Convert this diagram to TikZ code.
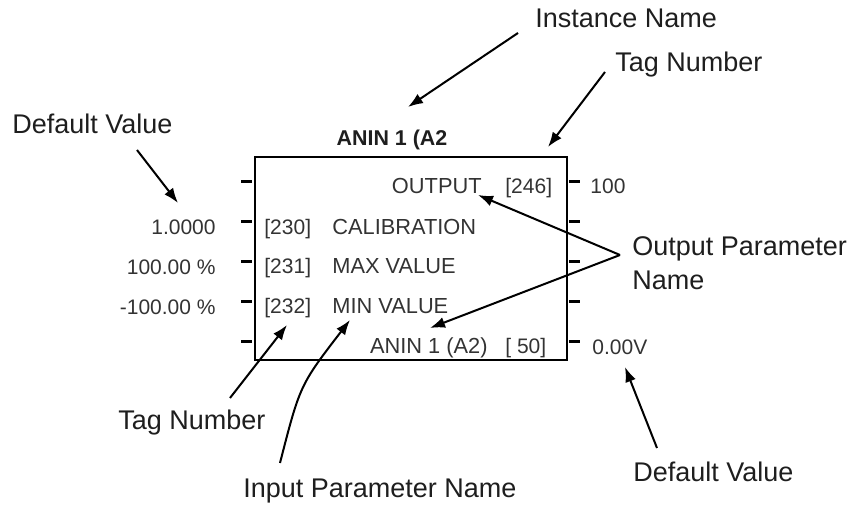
\documentclass[tikz,border=0pt]{standalone}
\usepackage{fontspec}
\setmainfont{Liberation Sans}
\usetikzlibrary{arrows.meta}
\definecolor{negroTexto}{HTML}{1E1E1E}
\definecolor{grisTexto}{HTML}{333333}
\colorlet{colLinea}{black}
\tikzset{
  cajaBloque/.style={
    draw=colLinea, line width=0.9pt, inner sep=0pt,
    minimum width=156pt, minimum height=101.5pt
  },
  marca/.style={draw=colLinea, line width=1.5pt},
  textoBloque/.style={font=\fontsize{10.5}{12}\selectfont, text=grisTexto, inner sep=0pt},
  nombreBloque/.style={textoBloque, font=\fontsize{10.9}{12}\selectfont},
  tituloBloque/.style={font=\fontsize{10.7}{12}\selectfont\bfseries, text=negroTexto, inner sep=0pt},
  etiqueta/.style={font=\fontsize{13.5}{17}\selectfont, text=negroTexto, inner sep=0pt, align=left},
  flecha/.style={-{Latex[length=7.5pt,width=5.5pt]}, line width=1pt, colLinea},
}
\begin{document}
\begin{tikzpicture}[x=0.5pt, y=-0.5pt]
  \useasboundingbox (0,0) rectangle (853,506);
  \node[cajaBloque] (bloque) at (411,258.5) {};
  \foreach \y in {182,222,262,302,342} {
    \draw[marca] (241,\y) -- (252,\y);
    \draw[marca] (569,\y) -- (580,\y);
  }
  \node[tituloBloque, anchor=base] (titulo) at (392,146) {ANIN 1 (A2};

  \node[nombreBloque, anchor=base east] (pSalida) at (482,194) {OUTPUT};
  \node[textoBloque, anchor=base west] (tag246) at (505,194) {[246]};
  \node[textoBloque, anchor=base west] (tag230) at (264,235) {[230]};
  \node[nombreBloque, anchor=base west] (pCalib) at (332,235) {CALIBRATION};
  \node[textoBloque, anchor=base west] (tag231) at (264,274) {[231]};
  \node[nombreBloque, anchor=base west] (pMax) at (332,274) {MAX VALUE};
  \node[textoBloque, anchor=base west] (tag232) at (264,314) {[232]};
  \node[nombreBloque, anchor=base west] (pMin) at (332,314) {MIN VALUE};
  \node[nombreBloque, anchor=base east] (pAnin) at (488,354) {ANIN 1 (A2)};
  \node[textoBloque, anchor=base west] (tag50) at (505,354) {[ 50]};

  \node[textoBloque, anchor=base east] (val230) at (216,235) {1.0000};
  \node[textoBloque, anchor=base east] (val231) at (216,275) {100.00 \%};
  \node[textoBloque, anchor=base east] (val232) at (216,315) {-100.00 \%};
  \node[textoBloque, anchor=base west] (val246) at (590,194) {100};
  \node[textoBloque, anchor=base west] (val50) at (592,355) {0.00V};

  \node[etiqueta, anchor=base west] (etInstancia) at (535,28) {Instance Name};
  \node[etiqueta, anchor=base west] (etTagSup) at (615,72) {Tag Number};
  \node[etiqueta, anchor=base west] (etDefIzq) at (12,134) {Default Value};
  \node[etiqueta, anchor=north west] (etSalida) at (632,236) {Output Parameter\\Name};
  \node[etiqueta, anchor=base west] (etTagInf) at (118,430) {Tag Number};
  \node[etiqueta, anchor=base west] (etEntrada) at (243,498) {Input Parameter Name};
  \node[etiqueta, anchor=base west] (etDefDer) at (633,482) {Default Value};

  \coordinate (cInstancia) at (518,33);
  \coordinate (fInstancia) at (408,107);
  \coordinate (cTagSup) at (605,72);
  \coordinate (fTagSup) at (548,147);
  \coordinate (cDefIzq) at (137,150);
  \coordinate (fDefIzq) at (178,203);
  \coordinate (cSalida) at (620,255);
  \coordinate (fSalida) at (478,195);
  \coordinate (fAnin) at (430,328);
  \coordinate (cTagInf) at (230,398);
  \coordinate (fTagInf) at (287,325);
  \coordinate (cEntrada) at (280,463);
  \coordinate (fEntrada) at (350,320);
  \coordinate (cDefDer) at (657,448);
  \coordinate (fDefDer) at (625,367);

  \draw[flecha] (cInstancia) -- (fInstancia);
  \draw[flecha] (cTagSup) -- (fTagSup);
  \draw[flecha] (cDefIzq) -- (fDefIzq);
  \draw[flecha] (cSalida) -- (fSalida);
  \draw[flecha] (cSalida) -- (fAnin);
  \draw[flecha] (cTagInf) -- (fTagInf);
  \draw[flecha] (cEntrada) .. controls (300,385) .. (fEntrada);
  \draw[flecha] (cDefDer) -- (fDefDer);
\end{tikzpicture}
\end{document}
